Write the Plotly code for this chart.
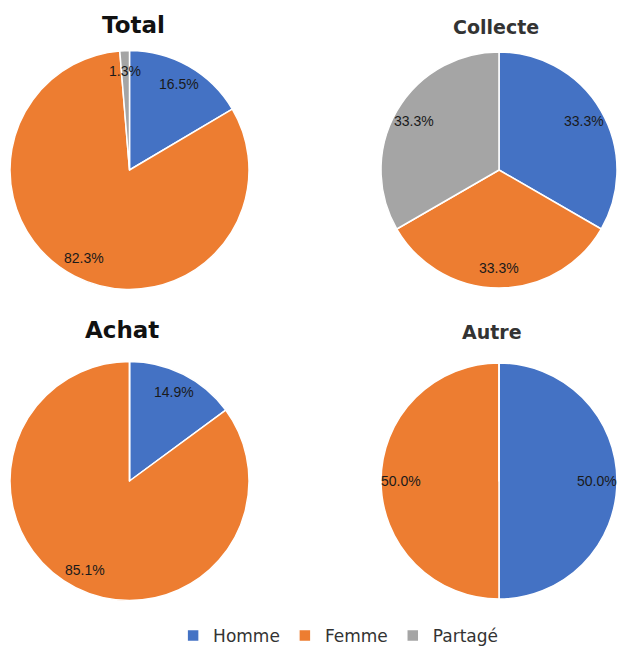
import math
import plotly.graph_objects as go

W, H = 617, 646

labels = ["Homme", "Femme", "Partagé"]
colors = ["#4472C4", "#ED7D31", "#A5A5A5"]

total_vals = [16.5, 82.3, 1.3]
collecte_vals = [33.3, 33.3, 33.3]
achat_vals = [14.9, 85.1, 0.0]
autre_vals = [50.0, 50.0, 0.0]

titles = ["Total", "Collecte", "Achat", "Autre"]
series = [total_vals, collecte_vals, achat_vals, autre_vals]

# pie boxes in pixels: (left, right, top, bottom)
boxes = [
    (10, 249, 50, 290),
    (381, 617, 50, 290),
    (10, 249, 361, 601),
    (381, 617, 361, 601),
]
# title centre (x px, y px, size, color)
title_style = [
    (133, 25, 23, "#111111"),
    (496, 27, 19, "#333333"),
    (122, 330, 23, "#111111"),
    (492, 332, 19, "#333333"),
]

fig = go.Figure()
annotations = []
for i, (vals, box) in enumerate(zip(series, boxes)):
    l, r, t, b = box
    dom_x = [l / W, r / W]
    dom_y = [1 - b / H, 1 - t / H]
    fig.add_trace(go.Pie(
        labels=labels,
        values=vals,
        marker=dict(colors=colors, line=dict(color="white", width=1.5)),
        sort=False,
        direction="clockwise",
        rotation=0,
        textinfo="none",
        hoverinfo="label+percent",
        domain=dict(x=dom_x, y=dom_y),
        showlegend=(i == 0),
        name=titles[i],
    ))
    # data labels placed along each slice's mid-angle
    cx = (l + r) / 2
    cy = (t + b) / 2
    rad = min(r - l, b - t) / 2
    tot = sum(vals)
    cum = 0.0
    for v in vals:
        if v <= 0:
            continue
        mid = (cum + v / 2) / tot * 2 * math.pi
        cum += v
        px = cx + 0.83 * rad * math.sin(mid)
        py = cy - 0.83 * rad * math.cos(mid)
        annotations.append(dict(
            x=px / W, y=1 - py / H, xref="paper", yref="paper",
            text=f"{v:.1f}%", showarrow=False,
            font=dict(family="Liberation Sans", size=14, color="#1a1a1a"),
            xanchor="center", yanchor="middle",
        ))

for name, (tx, ty, sz, col) in zip(titles, title_style):
    annotations.append(dict(
        x=tx / W, y=1 - ty / H, xref="paper", yref="paper",
        text=f"<b>{name}</b>", showarrow=False,
        font=dict(family="DejaVu Sans", size=sz, color=col),
        xanchor="center", yanchor="middle",
    ))

fig.update_layout(
    width=W, height=H,
    margin=dict(l=0, r=0, t=0, b=0, autoexpand=False),
    paper_bgcolor="white",
    plot_bgcolor="white",
    annotations=annotations,
    legend=dict(
        orientation="h",
        x=0.548, xanchor="center",
        y=1 - 636 / H, yanchor="middle",
        font=dict(family="DejaVu Sans", size=17, color="#333333"),
        itemwidth=30,
        traceorder="normal",
    ),
)

fig.write_html("out.html")
